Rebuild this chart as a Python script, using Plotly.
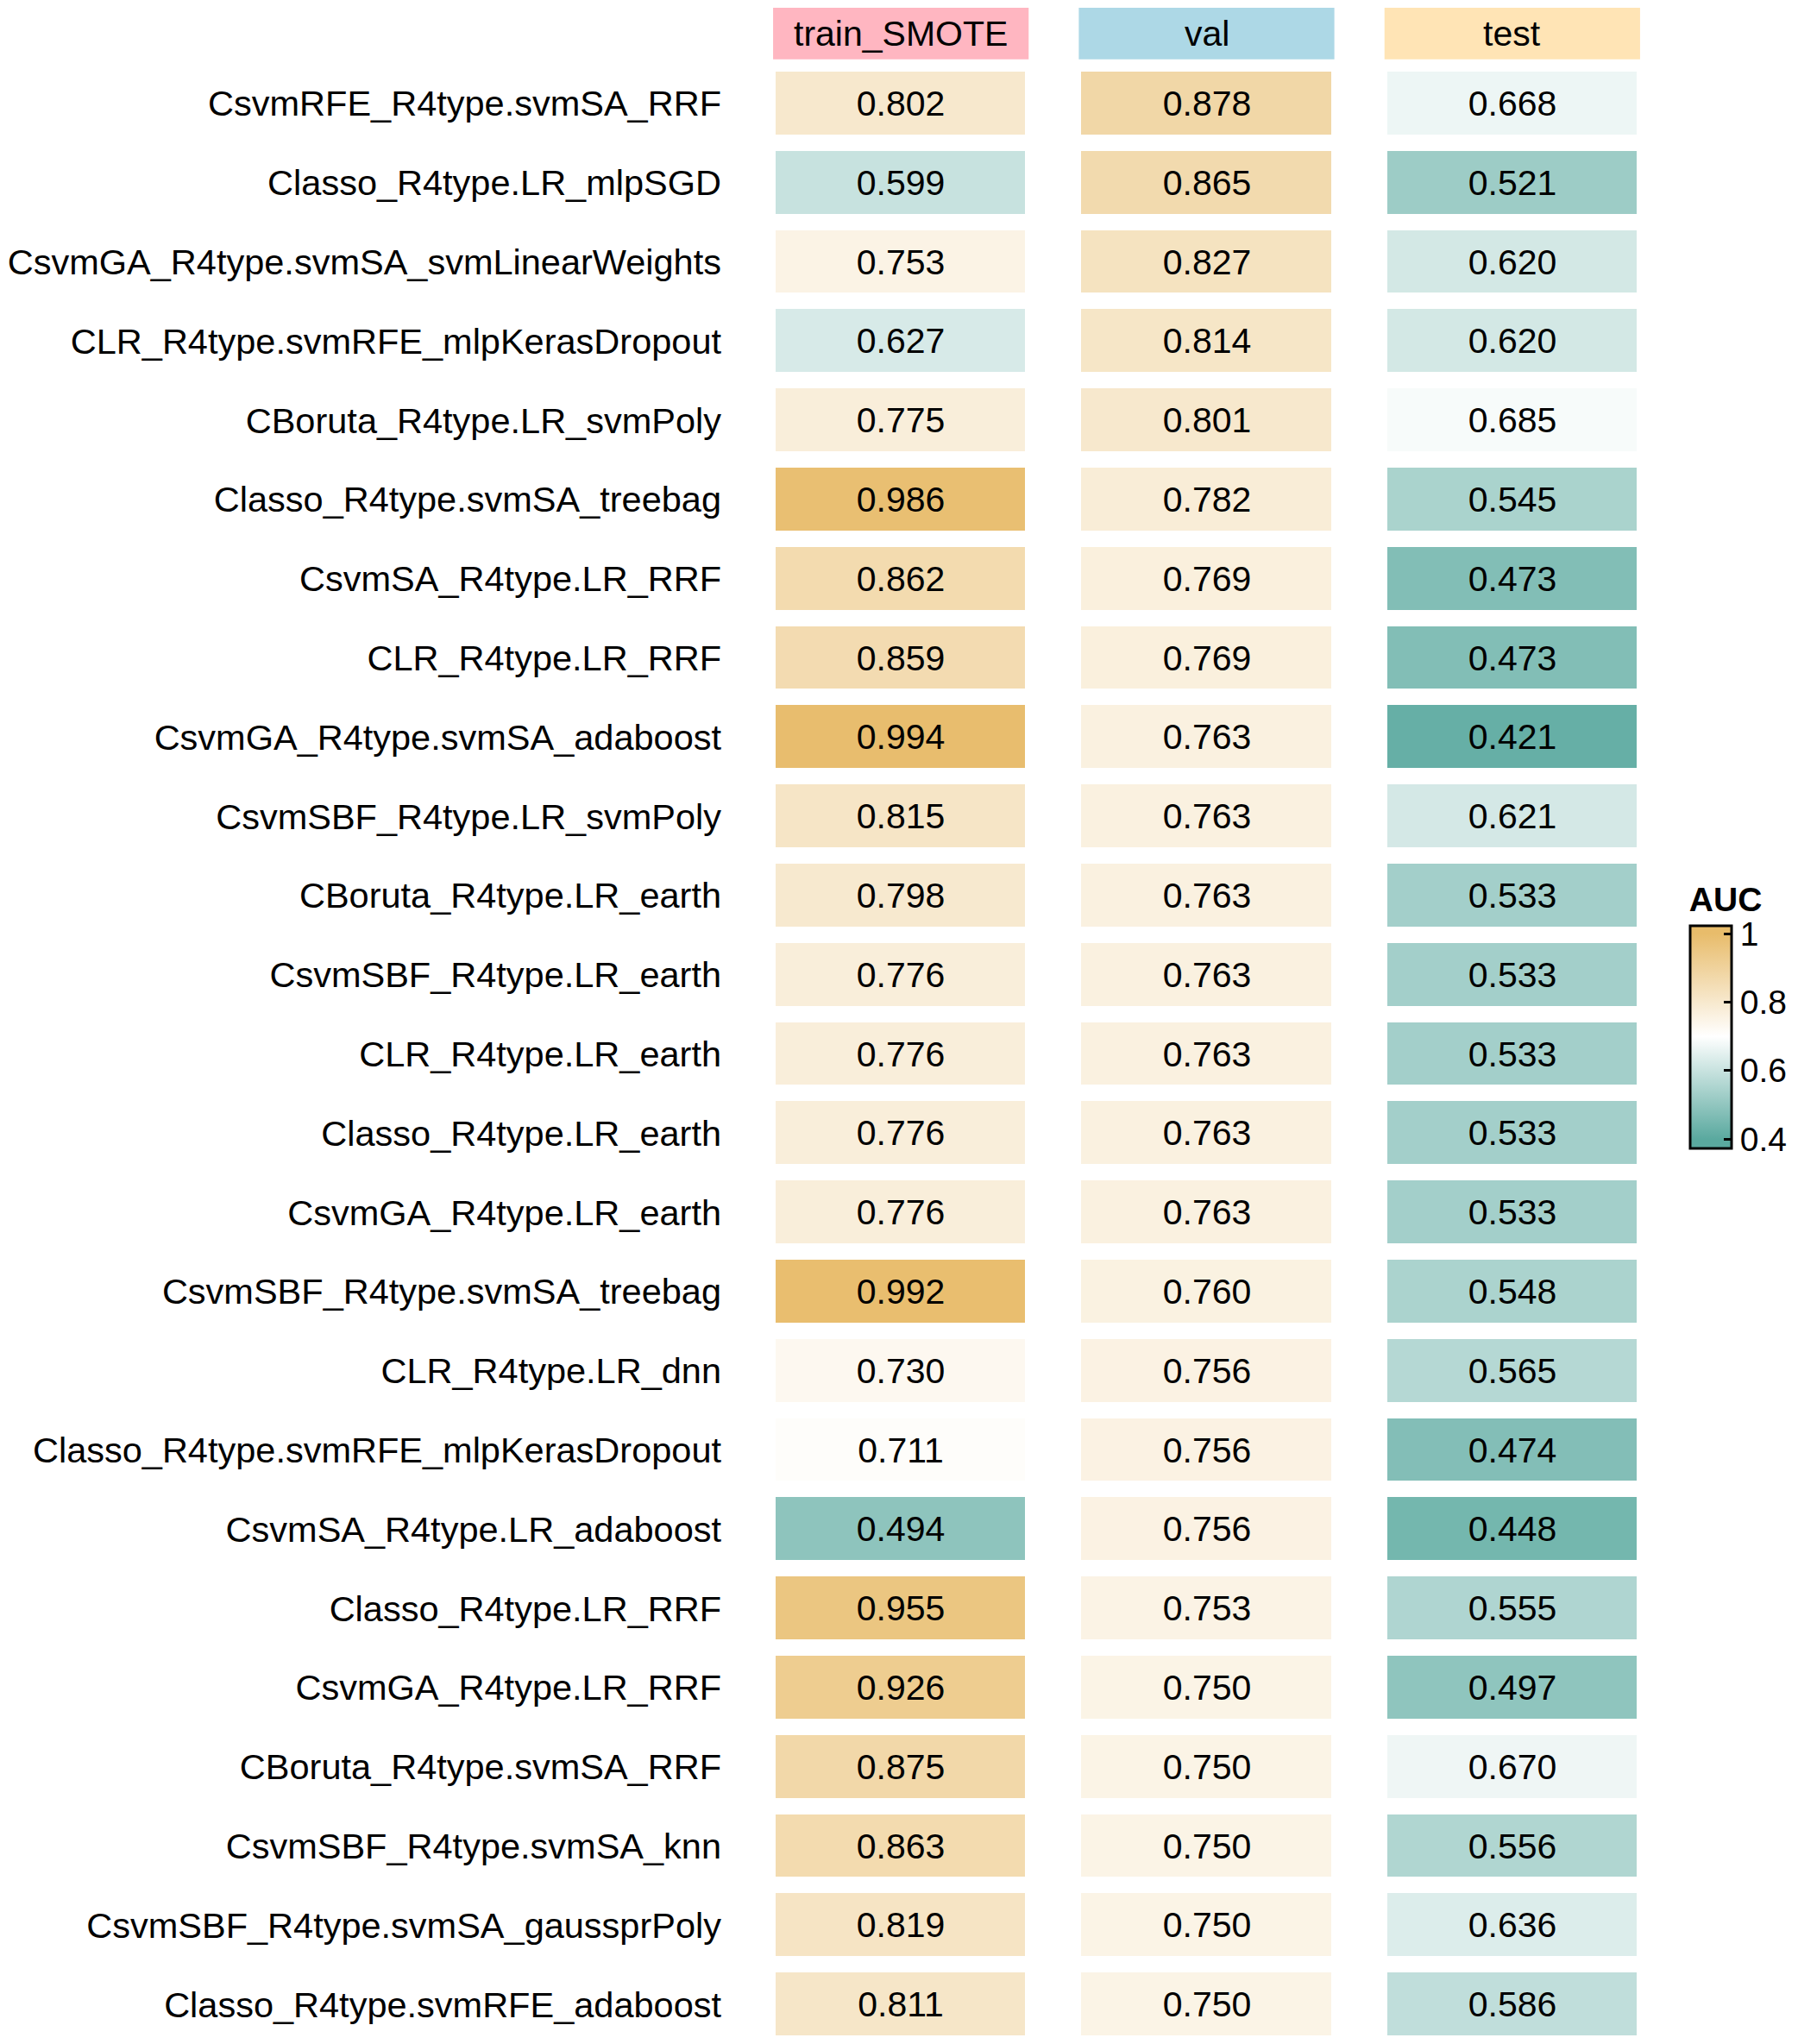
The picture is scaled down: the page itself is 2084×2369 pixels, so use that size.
import plotly.graph_objects as go

# Model names (top to bottom) and AUC values per data set
models = [
    "CsvmRFE_R4type.svmSA_RRF",
    "Classo_R4type.LR_mlpSGD",
    "CsvmGA_R4type.svmSA_svmLinearWeights",
    "CLR_R4type.svmRFE_mlpKerasDropout",
    "CBoruta_R4type.LR_svmPoly",
    "Classo_R4type.svmSA_treebag",
    "CsvmSA_R4type.LR_RRF",
    "CLR_R4type.LR_RRF",
    "CsvmGA_R4type.svmSA_adaboost",
    "CsvmSBF_R4type.LR_svmPoly",
    "CBoruta_R4type.LR_earth",
    "CsvmSBF_R4type.LR_earth",
    "CLR_R4type.LR_earth",
    "Classo_R4type.LR_earth",
    "CsvmGA_R4type.LR_earth",
    "CsvmSBF_R4type.svmSA_treebag",
    "CLR_R4type.LR_dnn",
    "Classo_R4type.svmRFE_mlpKerasDropout",
    "CsvmSA_R4type.LR_adaboost",
    "Classo_R4type.LR_RRF",
    "CsvmGA_R4type.LR_RRF",
    "CBoruta_R4type.svmSA_RRF",
    "CsvmSBF_R4type.svmSA_knn",
    "CsvmSBF_R4type.svmSA_gaussprPoly",
    "Classo_R4type.svmRFE_adaboost",
]

train_smote = [0.802, 0.599, 0.753, 0.627, 0.775, 0.986, 0.862, 0.859, 0.994, 0.815,
               0.798, 0.776, 0.776, 0.776, 0.776, 0.992, 0.730, 0.711, 0.494, 0.955,
               0.926, 0.875, 0.863, 0.819, 0.811]
val = [0.878, 0.865, 0.827, 0.814, 0.801, 0.782, 0.769, 0.769, 0.763, 0.763,
       0.763, 0.763, 0.763, 0.763, 0.763, 0.760, 0.756, 0.756, 0.756, 0.753,
       0.750, 0.750, 0.750, 0.750, 0.750]
test = [0.668, 0.521, 0.620, 0.620, 0.685, 0.545, 0.473, 0.473, 0.421, 0.621,
        0.533, 0.533, 0.533, 0.533, 0.533, 0.548, 0.565, 0.474, 0.448, 0.555,
        0.497, 0.670, 0.556, 0.636, 0.586]

columns = ["train_SMOTE", "val", "test"]
header_colors = ["lightpink", "lightblue", "moccasin"]

# colour breaks: teal at 0.4, white at 0.7, gold at 1 (clamped outside)
breaks = [0.4, 0.7, 1.0]
break_colors = ["#5aa99f", "#ffffff", "#e8bc6b"]
zlo, zhi = 0.373, 1.023   # legend bar runs a little past the breaks


def pos(v):
    return (v - zlo) / (zhi - zlo)


colorscale = [[0.0, break_colors[0]]]
colorscale += [[pos(b), c] for b, c in zip(breaks, break_colors)]
colorscale += [[1.0, break_colors[-1]]]

# matrix: rows = models, cols = data sets
z = [list(r) for r in zip(train_smote, val, test)]

FONT = "Liberation Sans, Arial, sans-serif"

fig = go.Figure(go.Heatmap(
    z=z,
    x=[0, 1, 2],
    y=models,
    zmin=zlo, zmax=zhi,
    colorscale=colorscale,
    xgap=65, ygap=19,
    texttemplate="%{z:.3f}",
    textfont=dict(size=41, color="black", family=FONT),
    hoverinfo="skip",
    colorbar=dict(
        title=dict(text="<b>AUC</b>", side="top", font=dict(size=39, family=FONT)),
        x=1.0276, xanchor="left", xpad=0,
        y=0.519, yanchor="middle", ypad=0,
        thickness=48, thicknessmode="pixels",
        len=306, lenmode="pixels",
        outlinecolor="black", outlinewidth=3,
        tickvals=[0.4, 0.6, 0.8, 1.0],
        ticktext=["0.4", "0.6", "0.8", "1"],
        ticks="inside", ticklen=10, tickwidth=3, tickcolor="black",
        tickfont=dict(size=39, family=FONT),
    ),
))

# column headers
for i, (name, col) in enumerate(zip(columns, header_colors)):
    fig.add_shape(type="rect", xref="x", yref="paper",
                  x0=i - 0.418, x1=i + 0.418, y0=1.0023, y1=1.0283,
                  fillcolor=col, line=dict(width=0))
    fig.add_annotation(x=i, y=1.0153, xref="x", yref="paper", text=name,
                       showarrow=False, font=dict(size=41, color="black", family=FONT),
                       xanchor="center", yanchor="middle")

fig.update_layout(
    width=2076, height=2361,
    margin=dict(l=859, r=154, t=66, b=0, autoexpand=False),
    plot_bgcolor="white", paper_bgcolor="white",
    font=dict(family=FONT, color="black"),
    xaxis=dict(range=[-0.5, 2.5], showticklabels=False, showgrid=False, zeroline=False),
    yaxis=dict(autorange="reversed", showgrid=False, zeroline=False, ticks="",
               ticklabelstandoff=30, tickfont=dict(size=41.5, family=FONT)),
)

fig.write_html("out.html")
